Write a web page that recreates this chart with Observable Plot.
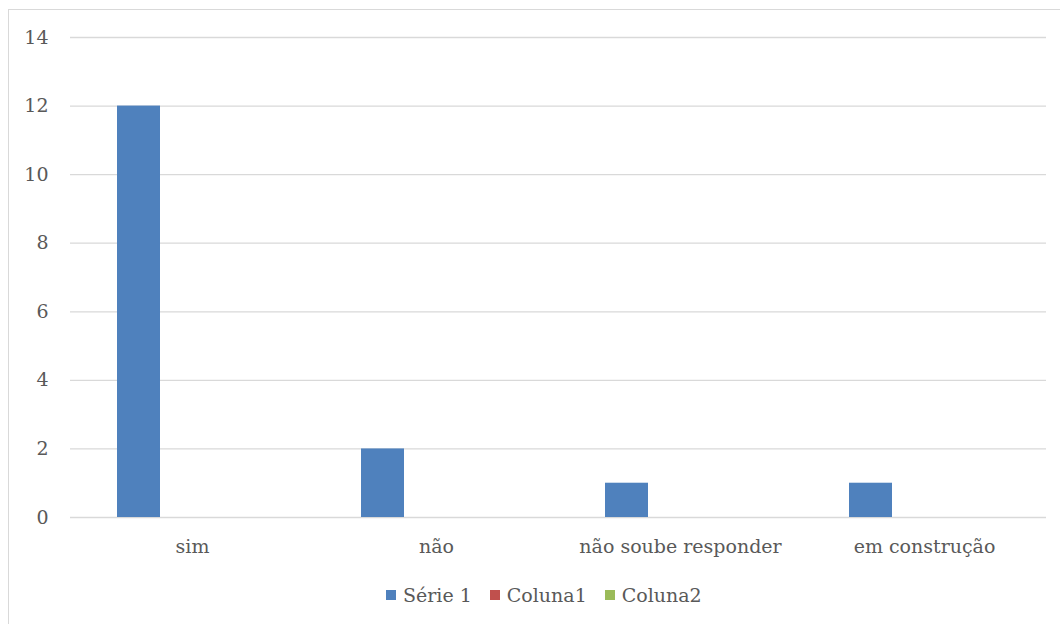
<!DOCTYPE html>
<html>
<head>
<meta charset="utf-8">
<script src="https://cdn.jsdelivr.net/npm/d3@7"></script>
<script src="https://cdn.jsdelivr.net/npm/@observablehq/plot@0.6"></script>
<style>
  html, body { margin: 0; padding: 0; background: #fff; width: 1060px; height: 624px; overflow: hidden; }
  #frame { position: absolute; left: 8px; top: 9px; width: 1100px; height: 700px; border: 1.5px solid #d9d9d9; box-sizing: border-box; }
  #chart { position: absolute; left: 0; top: 0; }
  #legend { position: absolute; left: 386px; top: 584px; display: flex; align-items: center; gap: 18px;
            font-family: "DejaVu Serif", serif; font-size: 19px; color: #595959; }
  .item { display: flex; align-items: center; gap: 7px; }
  .sw { width: 10px; height: 10px; display: inline-block; }
</style>
</head>
<body>
<div id="frame"></div>
<div id="chart"></div>
<div id="legend"></div>
<script>
// Answers per category; only the first series carries values
const categories = ["sim", "não", "não soube responder", "em construção"];
const seriesNames = ["Série 1", "Coluna1", "Coluna2"];
const serie1 = [12, 2, 1, 1];
const coluna1 = [0, 0, 0, 0];
const coluna2 = [0, 0, 0, 0];
const colors = ["#4f81bd", "#c0504d", "#9bbb59"];
const yTicks = [0, 2, 4, 6, 8, 10, 12, 14];

const columns = [serie1, coluna1, coluna2];
const rows = categories.flatMap((c, i) =>
  seriesNames.map((s, j) => ({category: c, series: s, value: columns[j][i]}))
);

const textColor = "#595959";
const font = "DejaVu Serif, serif";

const chart = Plot.plot({
  width: 1060,
  height: 570,
  marginLeft: 70,
  marginRight: 14,
  marginTop: 37,
  marginBottom: 53,
  style: {fontFamily: font, fontSize: "19px", color: textColor, background: "transparent"},
  fx: {domain: categories, padding: 0, label: null},
  x: {domain: seriesNames, paddingInner: 0.21, paddingOuter: 0.84, axis: null},
  y: {domain: [0, 14], label: null},
  color: {domain: seriesNames, range: colors},
  marks: [
    Plot.gridY(yTicks, {stroke: "#d9d9d9", strokeOpacity: 1, strokeWidth: 1.3}),
    Plot.barY(rows, {fx: "category", x: "series", y: "value", fill: "series"}),
    Plot.axisY({ticks: yTicks, tickSize: 0, tickPadding: 22, label: null, fill: textColor}),
    Plot.axisFx({anchor: "bottom", tickSize: 0, tickPadding: 22, label: null, fill: textColor})
  ]
});
document.getElementById("chart").append(chart);

// Legend below the plot
const legend = document.getElementById("legend");
seriesNames.forEach((s, i) => {
  const item = document.createElement("span");
  item.className = "item";
  const sw = document.createElement("span");
  sw.className = "sw";
  sw.style.background = colors[i];
  const label = document.createElement("span");
  label.textContent = s;
  item.append(sw, label);
  legend.append(item);
});
</script>
</body>
</html>
